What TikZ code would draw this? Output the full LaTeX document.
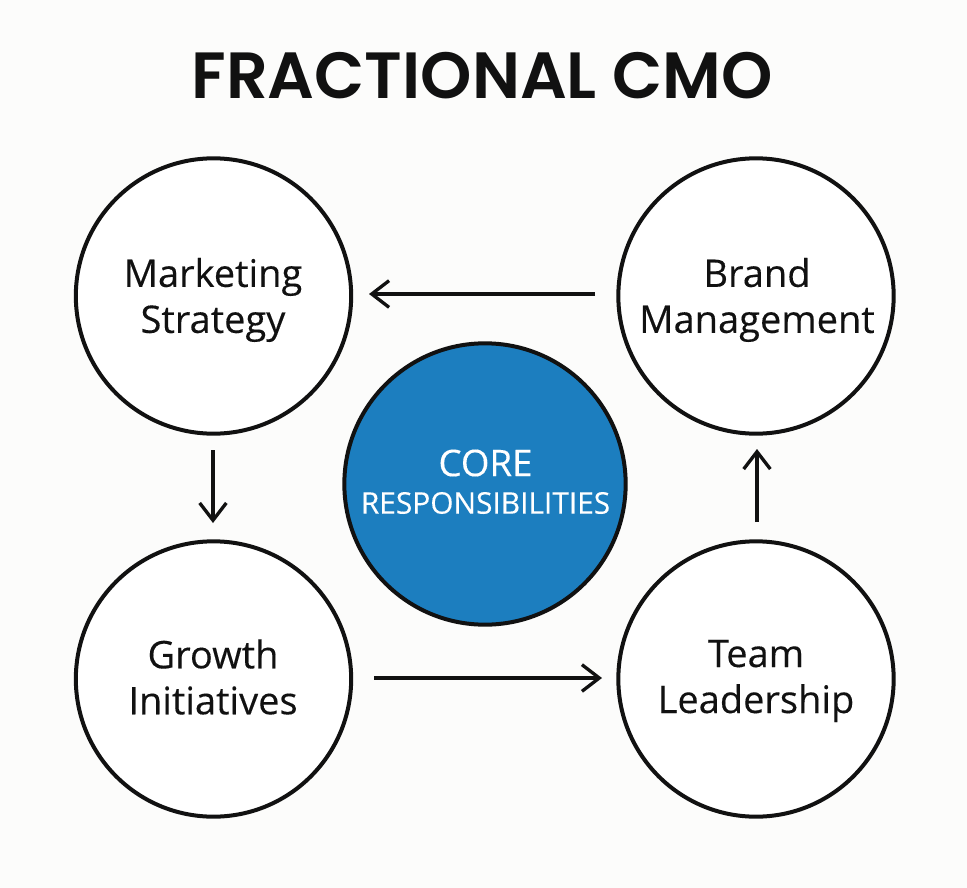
\documentclass[tikz,border=0pt]{standalone}
\usepackage{fontspec}
\setmainfont{Poppins SemiBold}
\newfontfamily\bodyfont[FakeBold=0.25]{Open Sans}
\usetikzlibrary{arrows.meta}
\definecolor{bgc}{HTML}{FCFCFB}
\definecolor{corec}{HTML}{1C7EBF}
\definecolor{inkc}{HTML}{111111}
\tikzset{
 px/.style={x=0.75pt,y=-0.75pt},
 bub/.style={circle,draw=inkc,line width=3pt,fill=white,minimum size=206.5pt,inner sep=0pt},
 lab/.style={align=center,text=inkc,inner sep=0pt,font=\bodyfont\fontsize{28.5}{34.5}\selectfont},
 corebub/.style={circle,draw=inkc,line width=3pt,fill=corec,minimum size=211pt,inner sep=0pt},
 flow/.style={draw=inkc,line width=2.5pt,-{Straight Barb[length=13pt,width=20pt,line width=2.5pt]}},
}
\begin{document}
\begin{tikzpicture}[px]
\useasboundingbox (0,0) rectangle (967,888);
\fill[bgc] (0,0) rectangle (967,888);
\node[font=\fontsize{49}{53}\selectfont,text=inkc] (title) at (482,76) {FRACTIONAL CMO};
\node[bub] (ms) at (213.5,296) {};
\node[bub] (bm) at (756,296) {};
\node[bub] (gi) at (213.5,679) {};
\node[bub] (tl) at (756,679) {};
\node[lab] (msl) at (213,300) {Marketing\\Strategy};
\node[lab] (bml) at (757,300) {Brand\\Management};
\node[lab] (gil) at (213,677) {Growth\\Initiatives};
\node[lab] (tll) at (756,681) {Team\\Leadership};
\node[corebub] (core) at (485,484) {};
\node[text=white,font=\bodyfont\fontsize{27.5}{32}\selectfont] (c1) at (485.5,463) {CORE};
\node[text=white,font=\bodyfont\fontsize{22.4}{26}\selectfont] (c2) at (485.5,503) {RESPONSIBILITIES};
\coordinate (a1s) at (595,294); \coordinate (a1e) at (369,294);
\coordinate (a2s) at (213,450); \coordinate (a2e) at (213,523);
\coordinate (a3s) at (374,678); \coordinate (a3e) at (602,678);
\coordinate (a4s) at (757,522); \coordinate (a4e) at (757,449);
\draw[flow] (a1s) -- (a1e);
\draw[flow] (a2s) -- (a2e);
\draw[flow] (a3s) -- (a3e);
\draw[flow] (a4s) -- (a4e);
\end{tikzpicture}
\end{document}
